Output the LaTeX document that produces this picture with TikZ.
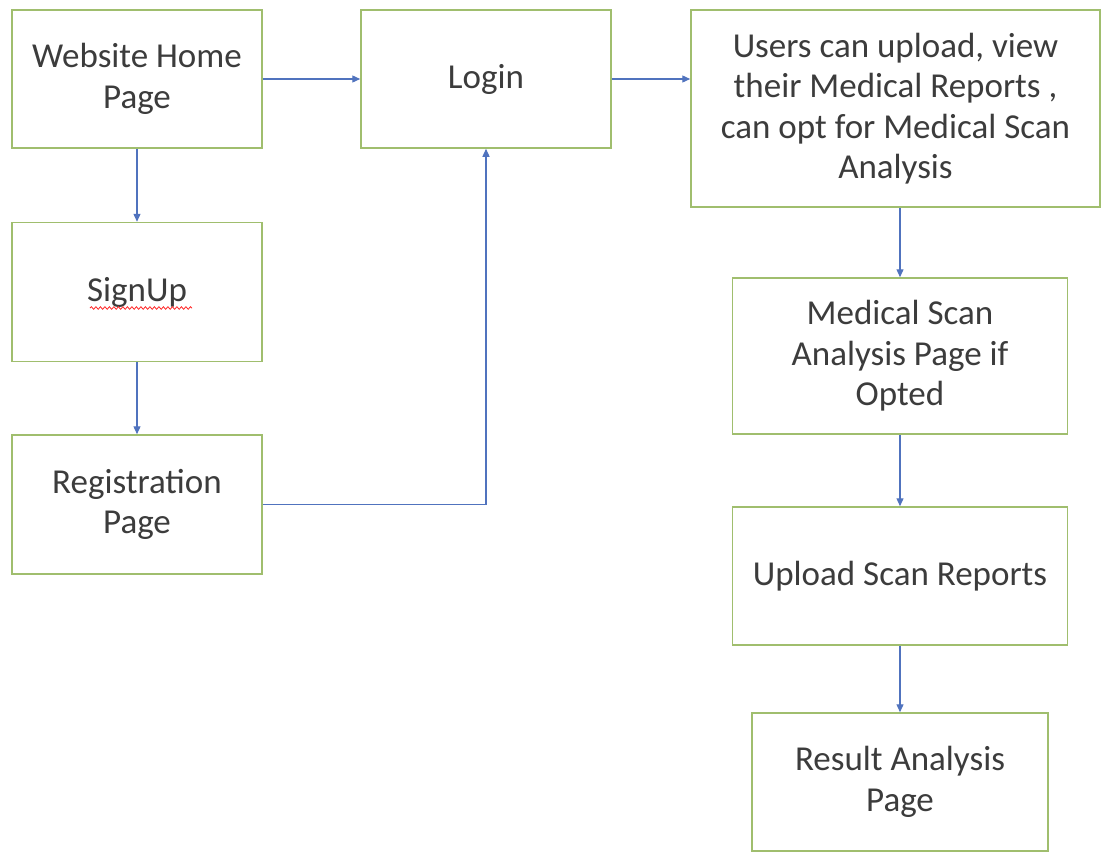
\documentclass[tikz,border=0pt]{standalone}
\usepackage{fontspec}
\setmainfont{Carlito}
\usetikzlibrary{arrows.meta,decorations.pathmorphing}
\definecolor{boxgreen}{RGB}{160,190,110}
\definecolor{flowblue}{RGB}{80,115,190}
\definecolor{txtgray}{RGB}{60,60,60}
\tikzset{
  stepbox/.style={draw=boxgreen, line width=1.5pt, fill=white, align=center,
    text=txtgray, font=\fontsize{35pt}{40.5pt}\selectfont, inner sep=2pt},
  flow/.style={draw=flowblue, line width=1.3pt,
    -{Triangle[length=8pt,width=7pt]}},
  squiggle/.style={draw=red!85!white, line width=0.8pt, decorate,
    decoration={snake, amplitude=1.3pt, segment length=4.5pt}}
}
\begin{document}
\begin{tikzpicture}[x=1pt,y=-1pt]
\useasboundingbox[fill=white] (0,0) rectangle (1102,851);

% left column
\node[stepbox, minimum width=250pt, minimum height=138pt] (home) at (137,79) {Website Home\\Page};
\node[stepbox, minimum width=250pt, minimum height=139pt] (signup) at (137,292) {SignUp};
\node[stepbox, minimum width=250pt, minimum height=139pt] (reg) at (137,504.5) {Registration\\Page};

% middle
\node[stepbox, minimum width=250pt, minimum height=138pt] (login) at (486,79) {Login};

% right column
\node[stepbox, minimum width=409pt, minimum height=197pt] (users) at (895.5,108.5)
  {Users can upload, view\\their Medical Reports ,\\can opt for Medical Scan\\Analysis};
\node[stepbox, minimum width=335pt, minimum height=156pt] (scan) at (900,356)
  {Medical Scan\\Analysis Page if\\Opted};
\node[stepbox, minimum width=335pt, minimum height=138pt] (upload) at (900,576)
  {Upload Scan Reports};
\node[stepbox, minimum width=296pt, minimum height=138pt] (result) at (900,782)
  {Result Analysis\\Page};

% spell-check mark under SignUp
\coordinate (sqA) at (90,308);
\coordinate (sqB) at (192,308);
\draw[squiggle] (sqA) -- (sqB);

% connectors
\draw[flow] (home.east) -- (login.west);
\draw[flow] (login.east) -- (users.west |- login.east);
\draw[flow] (home.south) -- (signup.north);
\draw[flow] (signup.south) -- (reg.north);
\draw[flow] (reg.east) -| (login.south);
\draw[flow] (scan.north |- users.south) -- (scan.north);
\draw[flow] (scan.south) -- (upload.north);
\draw[flow] (upload.south) -- (result.north);
\end{tikzpicture}
\end{document}
